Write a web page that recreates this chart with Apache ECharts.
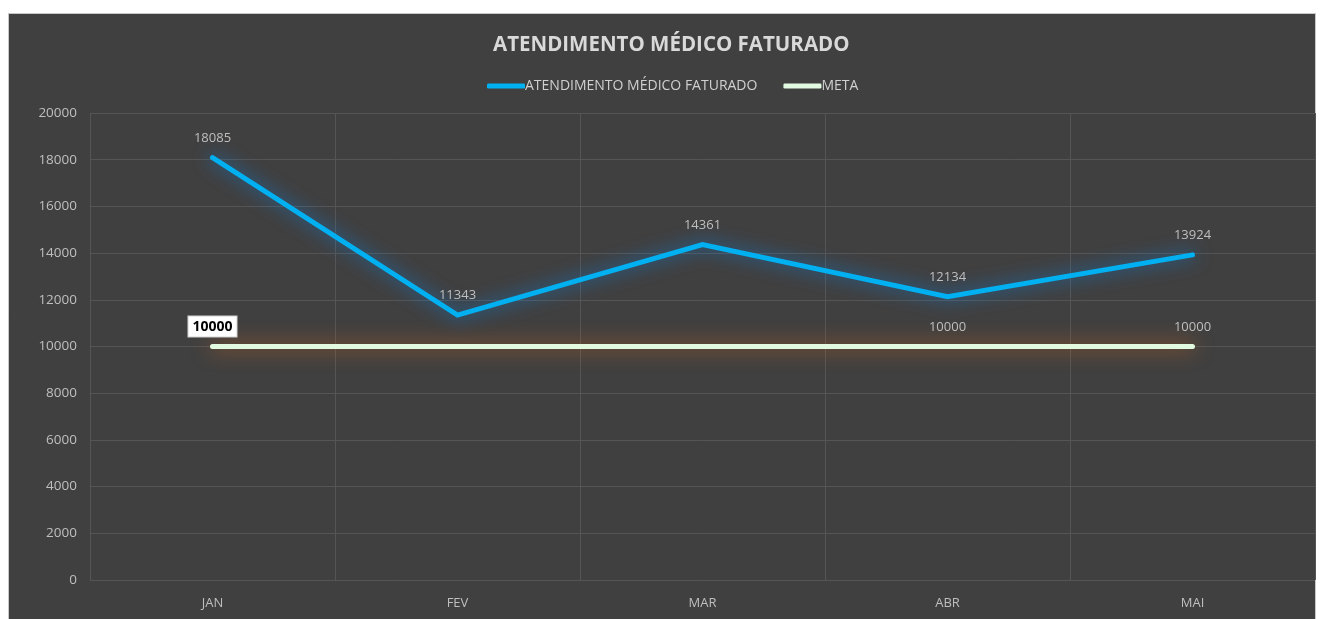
<!DOCTYPE html>
<html><head><meta charset="utf-8">
<style>html,body{margin:0;padding:0;background:#fff;}#c{width:1323px;height:619px;}</style>
<script src="https://cdn.jsdelivr.net/npm/echarts@6/dist/echarts.min.js"></script>
</head><body><div id="c"></div>
<script>
const categories = ['JAN','FEV','MAR','ABR','MAI'];
const atendimento = [18085, 11343, 14361, 12134, 13924];
const meta = [10000, 10000, 10000, 10000, 10000];
const metaLabelShown = [true, false, false, true, true];
const yTicks = {min: 0, max: 20000, interval: 2000};

const FONT = '"Open Sans", "Noto Sans", sans-serif';
const chart = echarts.init(document.getElementById('c'), null, {renderer: 'canvas'});
const metaData = meta.map((v, i) => {
  if (i === 0) return {value: v, label: {show: true, color: '#000', fontWeight: 'bold', fontSize: 14, backgroundColor: '#fff', padding: [4, 4, 2, 4], borderColor: '#d0d0d0', borderWidth: 1, distance: 10}};
  return {value: v, label: {show: metaLabelShown[i]}};
});
chart.setOption({
  backgroundColor: 'transparent',
  textStyle: {fontFamily: FONT},
  graphic: [{type: 'rect', z: -10, silent: true, shape: {x: 8.5, y: 13.5, width: 1307, height: 610}, style: {fill: '#404040', stroke: '#c8c8c8', lineWidth: 1}}],
  title: {text: 'ATENDIMENTO MÉDICO FATURADO', left: 488, top: 30, textStyle: {color: '#d9d9d9', fontSize: 20.5, fontWeight: 'bold', fontFamily: FONT}},
  legend: {top: 74, left: 482, itemWidth: 38, itemHeight: 5, itemGap: 26, icon: 'roundRect',
    textStyle: {color: '#d0d0d0', fontSize: 14, padding: [0, 0, 0, -5], fontFamily: FONT},
    data: [{name: 'ATENDIMENTO MÉDICO FATURADO', itemStyle: {color: '#00b0f0', opacity: 1}}, {name: 'META', itemStyle: {color: '#e2fbe0', opacity: 1}}]},
  grid: {left: 90, right: 8, top: 113, bottom: 39, containLabel: false},
  xAxis: {type: 'category', data: categories, boundaryGap: true,
    axisLine: {show: false}, axisTick: {show: false},
    axisLabel: {color: '#bfbfbf', fontSize: 13, margin: 17, fontFamily: FONT},
    splitLine: {show: true, interval: 0, lineStyle: {color: '#555555', width: 1}}},
  yAxis: {type: 'value', min: yTicks.min, max: yTicks.max, interval: yTicks.interval,
    axisLine: {show: false}, axisTick: {show: false},
    axisLabel: {color: '#bfbfbf', fontSize: 13.5, margin: 13, fontFamily: FONT, formatter: v => String(v)},
    splitLine: {lineStyle: {color: '#555555', width: 1}}},
  series: [
    {name: 'META', type: 'line', data: metaData, symbol: 'circle', symbolSize: 0.1, showSymbol: true, z: 2,
      lineStyle: {color: '#e2fbe0', width: 5, cap: 'round', shadowColor: 'rgba(200,100,30,0.95)', shadowBlur: 20},
      itemStyle: {color: '#e2fbe0'},
      label: {show: true, position: 'top', distance: 13, color: '#bfbfbf', fontSize: 13, fontFamily: FONT}},
    {name: 'ATENDIMENTO MÉDICO FATURADO', type: 'line', data: atendimento, symbol: 'circle', symbolSize: 0.1, showSymbol: true, z: 3,
      lineStyle: {color: '#00b0f0', width: 5, cap: 'round', join: 'miter', shadowColor: 'rgba(0,140,255,0.75)', shadowBlur: 18},
      itemStyle: {color: '#00b0f0'},
      label: {show: true, position: 'top', distance: 13, color: '#bfbfbf', fontSize: 13, fontFamily: FONT}}
  ]
});
</script></body></html>
